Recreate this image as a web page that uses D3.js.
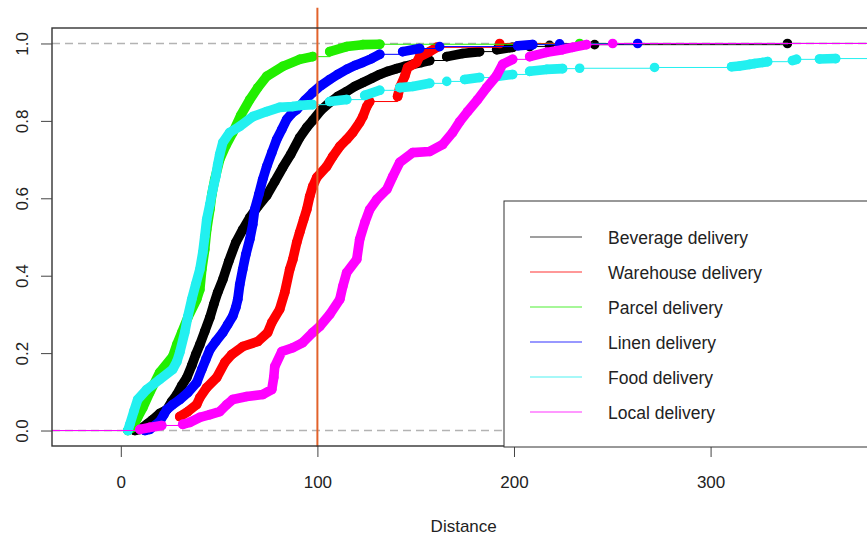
<!DOCTYPE html>
<html>
<head>
<meta charset="utf-8">
<script src="https://cdn.jsdelivr.net/npm/d3@7"></script>
<style>
body{margin:0;background:#fff;}
svg{display:block;font-family:"Liberation Sans",Arial,Helvetica,sans-serif;}
</style>
</head>
<body>
<div id="chart"></div>
<script>
// ECDF readings: [distance, cumulative share]
const beverage=[[7.1,0],[9.7,0.003],[13.2,0.016],[16.3,0.028],[19.8,0.044],[23.4,0.054],[25.9,0.075],[28.5,0.093],[31.0,0.116],[33.6,0.137],[36.1,0.168],[38.1,0.196],[40.2,0.222],[42.7,0.256],[45.3,0.292],[47.3,0.326],[49.3,0.357],[51.9,0.390],[54.9,0.437],[58.5,0.486],[62.0,0.519],[65.6,0.550],[69.7,0.579],[74.2,0.607],[78.3,0.643],[82.4,0.680],[86.4,0.713],[91.0,0.757],[94.6,0.783],[97.6,0.801],[101.7,0.827],[106.3,0.848],[110.3,0.863],[114.9,0.876],[119.0,0.889],[123.1,0.899],[127.6,0.910],[131.7,0.920],[135.8,0.928],[140.3,0.935],[144.4,0.941],[148.5,0.946],[153.0,0.951],[157.1,0.956],[165.8,0.966],[173.9,0.974],[182.5,0.979],[191.2,0.984],[199.3,0.990],[208.0,0.992],[218.1,0.995],[241.0,0.997],[339.1,1.0]];
const warehouse=[[18.8,0.013],[30.0,0.036],[34.1,0.049],[38.6,0.067],[40.2,0.085],[43.7,0.111],[48.8,0.137],[52.9,0.176],[56.4,0.196],[62.0,0.217],[69.7,0.230],[74.7,0.253],[76.8,0.279],[80.8,0.313],[83.4,0.357],[85.9,0.416],[87.5,0.442],[89.5,0.486],[91.0,0.512],[93.0,0.545],[94.6,0.571],[96.1,0.605],[97.6,0.630],[99.7,0.654],[104.7,0.682],[107.8,0.708],[111.4,0.734],[114.9,0.752],[118.0,0.770],[121.5,0.796],[123.1,0.811],[125.1,0.837],[126.6,0.850],[140.8,0.863],[141.9,0.886],[144.4,0.915],[145.9,0.938],[150.5,0.951],[152.0,0.966],[157.1,0.979],[160.7,0.990],[192.7,1.0]];
const parcel=[[3.6,0],[6.1,0.008],[8.6,0.034],[11.2,0.059],[14.7,0.098],[19.8,0.150],[26.4,0.191],[28.5,0.222],[31.0,0.253],[34.1,0.292],[38.6,0.339],[40.2,0.364],[41.2,0.416],[42.7,0.468],[43.7,0.519],[45.3,0.571],[46.3,0.610],[47.8,0.649],[50.3,0.700],[53.4,0.736],[57.0,0.770],[61.0,0.814],[65.6,0.855],[69.7,0.886],[74.2,0.915],[82.4,0.941],[91.0,0.959],[97.6,0.966],[106.3,0.979],[114.9,0.992],[123.1,0.997],[131.7,0.998],[233.4,1.0]];
const linen=[[12.2,0],[14.7,0.003],[17.3,0.013],[19.8,0.023],[21.9,0.041],[23.4,0.054],[26.4,0.067],[30.0,0.080],[34.1,0.098],[38.6,0.124],[41.2,0.158],[43.2,0.183],[45.3,0.209],[48.3,0.230],[51.9,0.253],[54.4,0.274],[56.9,0.295],[58.5,0.318],[59.5,0.339],[60.5,0.377],[62.0,0.416],[63.6,0.455],[65.6,0.494],[67.1,0.532],[68.1,0.571],[70.2,0.610],[72.2,0.649],[74.2,0.682],[76.8,0.718],[79.3,0.752],[81.9,0.778],[84.4,0.804],[86.9,0.819],[89.5,0.829],[93.6,0.853],[97.6,0.873],[101.7,0.891],[106.3,0.907],[110.3,0.920],[114.9,0.933],[119.0,0.943],[123.1,0.951],[127.6,0.961],[131.7,0.972],[143.4,0.979],[152.0,0.987],[162.2,0.992],[201.9,0.994],[209.5,0.997],[223.2,0.999],[262.9,1.0]];
const food=[[3.6,0],[4.6,0.016],[6.6,0.049],[8.6,0.080],[13.2,0.106],[19.8,0.132],[26.4,0.158],[28.5,0.178],[30.0,0.202],[32.5,0.253],[34.1,0.295],[36.1,0.339],[38.1,0.377],[40.2,0.416],[41.7,0.460],[42.7,0.501],[43.7,0.545],[45.3,0.584],[46.8,0.623],[48.3,0.656],[49.3,0.687],[50.3,0.713],[51.9,0.744],[55.4,0.770],[60.5,0.786],[67.1,0.811],[74.2,0.824],[80.8,0.835],[87.5,0.837],[91.0,0.840],[97.6,0.842],[106.3,0.850],[114.9,0.855],[124.1,0.866],[131.7,0.879],[141.9,0.886],[148.5,0.889],[157.1,0.897],[165.8,0.902],[174.9,0.907],[182.5,0.912],[191.2,0.915],[199.3,0.920],[208.0,0.928],[216.6,0.933],[224.7,0.935],[233.4,0.936],[271.5,0.938],[310.7,0.940],[314.7,0.942],[319.8,0.946],[322.4,0.948],[326.4,0.951],[329.0,0.953],[341.7,0.956],[343.7,0.959],[355.4,0.960],[363.6,0.961]];
const local=[[9.7,0.003],[14.7,0.008],[20.8,0.013],[31.5,0.016],[35.1,0.021],[40.2,0.034],[45.3,0.041],[50.3,0.049],[53.9,0.067],[56.9,0.080],[64.1,0.088],[72.2,0.093],[76.8,0.106],[77.8,0.137],[78.3,0.165],[81.9,0.204],[87.5,0.214],[92.5,0.227],[97.6,0.253],[101.2,0.269],[106.3,0.300],[111.4,0.339],[112.9,0.372],[114.9,0.408],[120.0,0.442],[121.5,0.494],[124.1,0.537],[126.6,0.571],[130.2,0.597],[135.3,0.623],[138.3,0.656],[141.9,0.693],[148.5,0.718],[157.1,0.721],[163.7,0.739],[168.8,0.770],[172.4,0.798],[176.4,0.824],[181.5,0.855],[186.1,0.886],[191.2,0.917],[194.2,0.946],[199.3,0.959],[208.0,0.966],[216.6,0.977],[224.7,0.984],[229.8,0.990],[236.9,0.997],[250.2,1.0]];

const seriesNames=['Beverage delivery','Warehouse delivery','Parcel delivery','Linen delivery','Food delivery','Local delivery'];
const seriesData=[beverage,warehouse,parcel,linen,food,local];
const seriesColors=['#000000','#ff0000','#22ee00','#0000ff','#22f0f0','#ff00ff'];
const xTicks=[0,100,200,300];
const yTicks=[0,0.2,0.4,0.6,0.8,1.0];
const refDistance=100;

const W=867,H=537;
const xlim=[-35,405],ylim=[-0.04,1.04];
const x=d3.scaleLinear().domain(xlim).range([52,917]);
const y=d3.scaleLinear().domain(ylim).range([446,28]);
const R=4.8;

const svg=d3.select('#chart').append('svg').attr('width',W).attr('height',H);
svg.append('defs').append('clipPath').attr('id','plotclip').append('rect')
  .attr('x',x(xlim[0])).attr('y',y(ylim[1])).attr('width',x(xlim[1])-x(xlim[0])).attr('height',y(ylim[0])-y(ylim[1]));
const plot=svg.append('g').attr('clip-path','url(#plotclip)');

function drawSeries(data,col){
  const g=plot.append('g');
  const steps=d3.path(),band=d3.path();
  const f=data[0],l=data[data.length-1];
  steps.moveTo(x(xlim[0]),y(0));steps.lineTo(x(f[0]),y(0));steps.lineTo(x(f[0]),y(f[1]));
  for(let i=1;i<data.length;i++){
    const ax=x(data[i-1][0]),ay=y(data[i-1][1]),bx=x(data[i][0]),by=y(data[i][1]);
    // dots packed closely along x merge into a band
    if(bx-ax<17 && Math.abs(by-ay)<45){band.moveTo(ax,ay);band.lineTo(bx,by);}
    else{steps.moveTo(ax,ay);steps.lineTo(bx,ay);steps.lineTo(bx,by);}
  }
  steps.moveTo(x(l[0]),y(l[1]));steps.lineTo(x(xlim[1]),y(l[1]));
  g.append('path').attr('d',steps.toString()).attr('fill','none').attr('stroke',col).attr('stroke-width',1);
  g.append('path').attr('d',band.toString()).attr('fill','none').attr('stroke',col)
    .attr('stroke-width',R*2).attr('stroke-linecap','round').attr('stroke-linejoin','round');
  g.selectAll('circle').data(data).join('circle')
    .attr('cx',d=>x(d[0])).attr('cy',d=>y(d[1])).attr('r',R).attr('fill',col);
}

seriesData.forEach((d,i)=>{
  drawSeries(d,seriesColors[i]);
  if(i===0){
    [0,1].forEach(v=>plot.append('line').attr('x1',x(xlim[0])).attr('x2',x(xlim[1])).attr('y1',y(v)).attr('y2',y(v))
      .attr('stroke','#b3b3b3').attr('stroke-width',1.5).attr('stroke-dasharray','8,5'));
  }
});

// reference line
svg.append('line').attr('x1',x(refDistance)).attr('x2',x(refDistance)).attr('y1',y(1.092)).attr('y2',y(-0.042))
  .attr('stroke','#e2622b').attr('stroke-width',2);

// frame
svg.append('rect').attr('x',x(xlim[0])).attr('y',y(ylim[1])).attr('width',x(xlim[1])-x(xlim[0])).attr('height',y(ylim[0])-y(ylim[1]))
  .attr('fill','none').attr('stroke','#333').attr('stroke-width',1.4);

// axes
const ax=svg.append('g').attr('transform',`translate(0,${y(ylim[0])})`)
  .call(d3.axisBottom(x).tickValues(xTicks).tickSize(11).tickFormat(d3.format('d')));
ax.select('.domain').remove();
ax.selectAll('line').attr('stroke','#444');
ax.selectAll('text').attr('y',42).attr('dy',0).attr('font-size',17).attr('fill','#222').attr('font-family',null);

const ay=svg.append('g').attr('transform',`translate(${x(xlim[0])},0)`)
  .call(d3.axisLeft(y).tickValues(yTicks).tickSize(11).tickFormat(d3.format('.1f')));
ay.select('.domain').remove();
ay.selectAll('line').attr('stroke','#444');
ay.selectAll('text').attr('x',0).attr('dy',0).attr('text-anchor','middle')
  .attr('transform','translate(-24,0) rotate(-90)').attr('font-size',17).attr('fill','#222').attr('font-family',null);

svg.append('text').attr('x',(x(0)+x(300))/2+48).attr('y',532).attr('text-anchor','middle')
  .attr('font-size',17).attr('fill','#222').text('Distance');

// legend
const leg=svg.append('g').attr('transform','translate(504,201)');
leg.append('rect').attr('width',420).attr('height',246).attr('fill','#fff').attr('stroke','#333').attr('stroke-width',1);
seriesNames.forEach((n,i)=>{
  const yy=36+i*35;
  leg.append('line').attr('x1',26).attr('x2',78).attr('y1',yy).attr('y2',yy).attr('stroke',seriesColors[i]).attr('stroke-width',1.2).attr('opacity',i===0?0.75:0.8);
  leg.append('text').attr('x',104).attr('y',yy+7).attr('font-size',17.5).attr('fill','#222').text(n);
});
</script>
</body>
</html>
